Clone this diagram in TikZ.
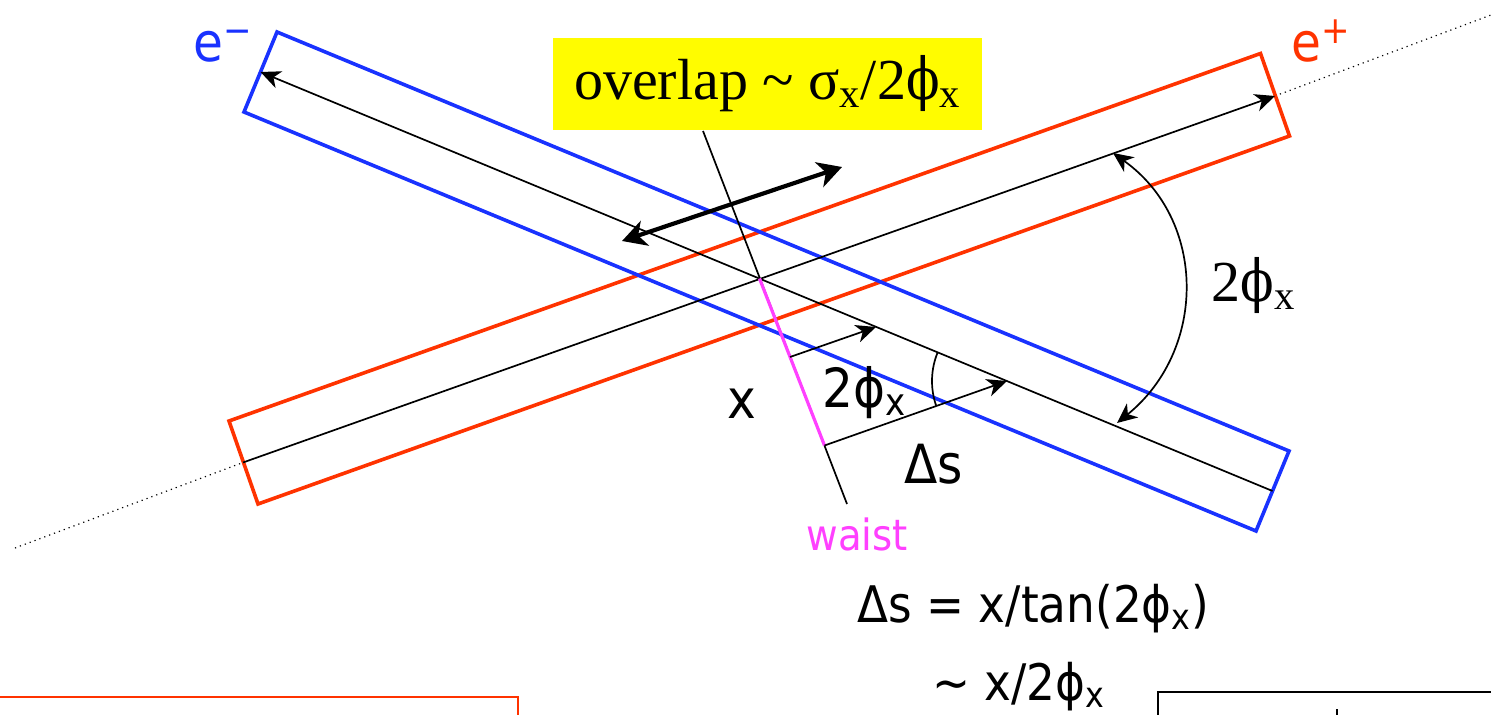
\documentclass[tikz,border=0pt]{standalone}
\usepackage{fontspec}
\setmainfont{Liberation Serif}
\newfontfamily\lab{DejaVu Sans}[FakeStretch=0.9]
\newfontfamily\phiserif{DejaVu Serif}[FakeStretch=0.85]
\newcommand{\sphi}{{\phiserif ϕ}}
\usetikzlibrary{arrows.meta}
\definecolor{beamblue}{RGB}{25,50,255}
\definecolor{beamred}{RGB}{255,51,0}
\definecolor{waistpink}{RGB}{255,64,255}
\definecolor{labelyellow}{RGB}{255,252,0}
\tikzset{
  beam/.style={line width=1.8pt, line join=miter},
  axisline/.style={line width=0.85pt},
  thinarrow/.style={axisline, -{Stealth[length=10pt,width=9pt,inset=3pt]}},
  thinboth/.style={axisline, {Stealth[length=10pt,width=9pt,inset=3pt]}-{Stealth[length=10pt,width=9pt,inset=3pt]}},
  bigarrow/.style={line width=2.1pt, {Stealth[length=12pt,width=13pt,inset=3.5pt]}-{Stealth[length=12pt,width=13pt,inset=3.5pt]}},
  lbl/.style={font=\lab\fontsize{27}{32}\selectfont, inner sep=0pt, anchor=base west},
  serif/.style={font=\fontsize{29}{34}\selectfont, inner sep=0pt},
  dots/.style={dotted, line width=0.6pt}
}
\begin{document}
\begin{tikzpicture}[x=0.5pt,y=-0.5pt]
\useasboundingbox (0,0) rectangle (1491,715);
\clip (0,0) rectangle (1491,715);
% --- key points
\coordinate (bTL) at (277,32);
\coordinate (bTR) at (1289,451);
\coordinate (bBR) at (1256,531);
\coordinate (bBL) at (244,112);
\coordinate (bL) at (260.5,72);
\coordinate (bR) at (1272.5,491);
\coordinate (rTL) at (229,421);
\coordinate (rTR) at (1260.5,53.5);
\coordinate (rBR) at (1289.5,136);
\coordinate (rBL) at (258,504);
\coordinate (rL) at (243,462.5);
\coordinate (rR) at (1275,96);
\coordinate (dL) at (15,548);
\coordinate (dR) at (1491,15);
\coordinate (wTop) at (703,131);
\coordinate (wBot) at (847,504);
\coordinate (cross) at (759.5,278.5);
\coordinate (wLow) at (824.5,445.5);
\coordinate (a1s) at (790,357);
\coordinate (a1e) at (876,327);
\coordinate (a2e) at (1007,381);
\coordinate (angA) at (937.7,352.3);
\coordinate (angB) at (936.3,406.1);
\coordinate (bigA) at (1113,153);
\coordinate (bigB) at (1117,423);
\coordinate (ovA) at (622,241);
\coordinate (ovB) at (842,167);
% --- dotted axis extensions
\draw[dots] (dL) -- (rL);
\draw[dots] (rR) -- (dR);
% --- beams
\draw[beam, beamred] (rTL) -- (rTR) -- (rBR) -- (rBL) -- cycle;
\draw[beam, beamblue] (bTL) -- (bTR) -- (bBR) -- (bBL) -- cycle;
% --- beam axes
\draw[thinarrow] (bR) -- (bL);
\draw[thinarrow] (rL) -- (rR);
% --- waist line
\draw[axisline] (wTop) -- (wBot);
\draw[waistpink, line width=1.6pt] (cross) -- (wLow);
% --- small arrows and angle
\draw[thinarrow] (a1s) -- (a1e);
\draw[thinarrow] (wLow) -- (a2e);
\draw[axisline] (angA) .. controls (930.6,369.4) and (930.1,388.7) .. (angB);
% --- big crossing angle
\draw[thinboth] (bigA) .. controls (1207,220) and (1207,350) .. (bigB);
% --- overlap arrow
\draw[bigarrow] (ovA) -- (ovB);
% --- labels
\node[lbl, text=beamblue] (eminus) at (193,62) {e\textsuperscript{\char"2212}};
\node[lbl, text=beamred] (eplus) at (1291,62) {e\textsuperscript{+}};
\node[serif, fill=labelyellow, minimum width=214.5pt, minimum height=46pt] (overlap) at (767.5,84) {overlap \textasciitilde{} σ\textsubscript{x}/2\sphi\textsubscript{x}};
\node[serif, anchor=base west] (angR) at (1211,302) {2\sphi\textsubscript{x}};
\node[lbl] (xlab) at (727,418) {x};
\node[lbl] (angS) at (822,408) {2ϕ\textsubscript{x}};
\node[lbl] (ds) at (904,483) {Δs};
\node[font=\lab\fontsize{21.5}{26}\selectfont, text=waistpink, inner sep=0pt, anchor=base west] (waist) at (806,550) {waist};
\node[font=\lab\fontsize{25.2}{30}\selectfont, inner sep=0pt, anchor=base west] (f1) at (857,622) {Δs = x/tan(2ϕ\textsubscript{x})};
\node[font=\lab\fontsize{25.2}{30}\selectfont, inner sep=0pt, anchor=base west] (f2) at (932,700) {\textasciitilde{} x/2ϕ\textsubscript{x}};
% --- partial boxes at the bottom
\draw[beamred, line width=1pt] (-10,697) rectangle (518,740);
\draw[line width=0.8pt] (1158,692) rectangle (1510,740);
\draw[line width=1.2pt] (1337,709) -- (1337,716);
\end{tikzpicture}
\end{document}
